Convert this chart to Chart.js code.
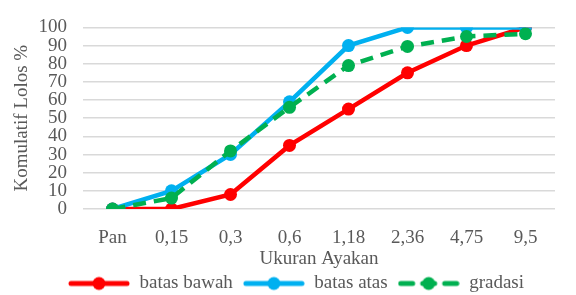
<!DOCTYPE html>
<html>
<head>
<meta charset="utf-8">
<script src="https://cdn.jsdelivr.net/npm/chart.js@4"></script>
<style>
  html, body { margin: 0; padding: 0; background: #fff; }
  #wrap { width: 576px; height: 295px; }
</style>
</head>
<body>
<div id="wrap"><canvas id="chart" width="576" height="295"></canvas></div>
<script>
"use strict";

const sieveSizes = ["Pan", "0,15", "0,3", "0,6", "1,18", "2,36", "4,75", "9,5"];
const batasBawah = [0, 0, 8, 35, 55, 75, 90, 100];
const batasAtas = [0, 10, 30, 59, 90, 100, 100, 100];
const gradasi = [0, 6, 32, 56, 79, 89.5, 95, 96.5];

const textColor = "#595959";
const fontFamily = "'Liberation Serif', 'Times New Roman', serif";

/**
 * Builds a small canvas showing a line with a dot, used as legend marker
 */
function legendMarker(color, dashed) {
  const c = document.createElement("canvas");
  c.width = 62;
  c.height = 16;
  const ctx = c.getContext("2d");
  ctx.strokeStyle = color;
  ctx.fillStyle = color;
  ctx.lineWidth = 5;
  ctx.lineCap = "round";
  if (dashed) ctx.setLineDash([12, 10]);
  ctx.beginPath();
  ctx.moveTo(3, 8);
  ctx.lineTo(59, 8);
  ctx.stroke();
  ctx.beginPath();
  ctx.arc(31, 8, 6.5, 0, Math.PI * 2);
  ctx.fill();
  return c;
}

const series = [
  { label: "batas bawah", data: batasBawah, color: "#FF0000", dashed: false, order: 3 },
  { label: "batas atas", data: batasAtas, color: "#00B0F0", dashed: false, order: 2 },
  { label: "gradasi", data: gradasi, color: "#00B050", dashed: true, order: 1 },
];

// nudges the legend a bit to the right, like the original
const legendShift = {
  id: "legendShift",
  beforeDraw(chart) {
    chart.legend.left += 13;
    chart.legend.right += 13;
  },
};

new Chart(document.getElementById("chart"), {
  type: "line",
  data: {
    labels: sieveSizes,
    datasets: series.map((s) => ({
      label: s.label,
      data: s.data,
      borderColor: s.color,
      backgroundColor: s.color,
      borderWidth: 4.5,
      borderDash: s.dashed ? [13, 8] : [],
      pointRadius: 6.5,
      pointBorderWidth: 0,
      pointBackgroundColor: s.color,
      tension: 0,
      order: s.order,
    })),
  },
  plugins: [legendShift],
  options: {
    responsive: false,
    animation: false,
    layout: { padding: { left: 11, right: 21, top: 8, bottom: -8 } },
    scales: {
      x: {
        offset: true,
        grid: { display: false, drawTicks: false },
        border: { display: false },
        ticks: { color: textColor, font: { family: fontFamily, size: 19 }, padding: 18, maxRotation: 0 },
        title: {
          display: true,
          text: "Ukuran Ayakan",
          color: textColor,
          font: { family: fontFamily, size: 19 },
          padding: { top: 0, bottom: -6 },
        },
        afterFit: (scale) => {
          scale.height = 55;
        },
      },
      y: {
        min: 0,
        max: 100,
        grid: { color: "#D9D9D9", lineWidth: 1.5, drawTicks: false },
        border: { display: false },
        ticks: { stepSize: 10, autoSkip: false, color: textColor, font: { family: fontFamily, size: 19 }, padding: 16 },
        title: { display: true, text: "Komulatif Lolos %", color: textColor, font: { family: fontFamily, size: 19 }, padding: 0 },
        afterFit: (scale) => {
          scale.width = 72;
        },
      },
    },
    plugins: {
      tooltip: { enabled: false },
      legend: {
        position: "bottom",
        labels: {
          usePointStyle: true,
          pointStyleWidth: 62,
          boxHeight: 16,
          padding: 10,
          color: textColor,
          font: { family: fontFamily, size: 19 },
          generateLabels: () =>
            series.map((s, i) => ({
              text: s.label,
              fontColor: textColor,
              pointStyle: legendMarker(s.color, s.dashed),
              datasetIndex: i,
              lineWidth: 0,
              strokeStyle: "transparent",
              fillStyle: s.color,
            })),
        },
      },
    },
  },
});
</script>
</body>
</html>
